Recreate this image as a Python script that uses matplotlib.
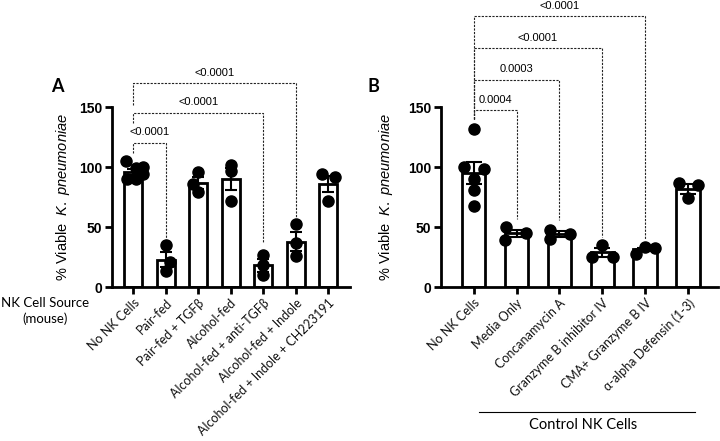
import matplotlib
matplotlib.use('Agg')
import matplotlib.pyplot as plt
import numpy as np

plt.rcParams['font.family'] = ['Lato', 'DejaVu Sans']
plt.rcParams['mathtext.fontset'] = 'custom'
plt.rcParams['mathtext.rm'] = 'Liberation Sans'
plt.rcParams['mathtext.it'] = 'Liberation Sans:italic'

# ---- panel A data ----
a_labels = ['No NK Cells', 'Pair-fed', 'Pair-fed + TGFβ', 'Alcohol-fed',
            'Alcohol-fed + anti-TGFβ', 'Alcohol-fed + Indole',
            'Alcohol-fed + Indole + CH223191']
a_means = [96, 23, 87, 90, 18, 38, 86]
a_sem = [2.5, 6.5, 5, 9, 5.5, 8, 7]
a_points = [[105, 99, 100, 90, 90, 94], [35, 21, 13], [96, 86, 79],
            [102, 97, 72], [27, 18, 10], [53, 37, 26], [94, 92, 72]]
a_pairs = [(0, 1), (0, 4), (0, 5)]
a_pvals = ['<0.0001', '<0.0001', '<0.0001']
a_levels = [120.5, 145.5, 170]
a_left_end = [112, 137, 152]
a_right_end = [40, 37, 58]

# ---- panel B data ----
b_labels = ['No NK Cells', 'Media Only', 'Concanamycin A',
            'Granzyme B inhibitor IV', 'CMA+ Granzyme B IV',
            'α-alpha Defensin (1-3)']
b_means = [95, 45, 44, 29, 31.5, 82]
b_sem = [9, 3, 2.5, 4, 1.5, 4]
b_points = [[132, 100, 98.5, 90, 81, 68], [50.5, 45, 39.5], [48, 44, 40],
            [35, 25, 25], [33.5, 33, 28], [87, 85, 74]]
b_pairs = [(0, 1), (0, 2), (0, 3), (0, 4)]
b_pvals = ['0.0004', '0.0003', '<0.0001', '<0.0001']
b_levels = [147.5, 173, 199.5, 226]
b_left_end = [140.5, 140.5, 140.5, 140.5]
b_right_end = [57, 56, 42, 40]

# horizontal spread of the scatter dots (layout only)
a_spread = [[-0.22, 0.08, 0.3, -0.2, 0.1, 0.3], [0, 0.12, 0], [0, -0.15, 0],
            [0, 0, 0], [0, 0, 0], [0, 0, 0], [-0.2, 0.22, 0]]
b_spread = [[0, -0.22, 0.25, 0, 0, 0], [-0.25, 0.22, -0.26], [-0.22, 0.24, -0.22],
            [0, -0.24, 0.26], [0, 0.23, -0.22], [-0.22, 0.24, 0]]

NUM_FONT = 'Liberation Sans'


def draw_panel(ax, labels, means, sem, points, spread, pairs, pvals, levels,
               left_end, right_end, xlim, capsize):
    x = np.arange(len(labels))
    ax.bar(x, means, width=0.55, color='white', edgecolor='black',
           linewidth=2.0, zorder=2)
    for i, (pts, sp) in enumerate(zip(points, spread)):
        ax.plot(x[i] + np.array(sp), pts, 'o', color='black', markersize=8,
                zorder=3, clip_on=False)
    ax.errorbar(x, means, yerr=sem, fmt='none', ecolor='black',
                elinewidth=1.5, capsize=capsize, capthick=1.5, zorder=4)

    for (i, j), p, lvl, le, re in zip(pairs, pvals, levels, left_end, right_end):
        ax.plot([x[i], x[i], x[j], x[j]], [le, lvl, lvl, re], color='#222222',
                linewidth=0.8, linestyle=(0, (2, 1.2)), clip_on=False, zorder=1)
        ax.text((x[i] + x[j]) / 2, lvl + 8.5, p, ha='center', va='center',
                fontsize=8, family=NUM_FONT)

    ax.set_xlim(*xlim)
    ax.set_ylim(0, 150)
    ax.set_yticks([0, 50, 100, 150])
    ax.set_xticks(x)
    ax.set_xticklabels(labels, rotation=45, ha='right', rotation_mode='anchor',
                       fontsize=9, color='#111111')
    for lab in ax.get_yticklabels():
        lab.set_family(NUM_FONT)
        lab.set_fontweight('bold')
        lab.set_fontsize(10)
    ax.tick_params(axis='both', direction='out', length=5, width=2.0)
    ax.tick_params(axis='y', pad=2)
    ax.tick_params(axis='x', pad=2)
    for side in ('top', 'right'):
        ax.spines[side].set_visible(False)
    for side in ('left', 'bottom'):
        ax.spines[side].set_linewidth(2.0)
    ax.set_ylabel('% Viable  $\\mathit{K.\\ pneumoniae}$', fontsize=10.5,
                  family=NUM_FONT)


fig = plt.figure(figsize=(7.2, 4.41), dpi=100)
ax_a = fig.add_axes([0.1556, 0.349, 0.331, 0.408])
ax_b = fig.add_axes([0.6125, 0.349, 0.385, 0.408])

draw_panel(ax_a, a_labels, a_means, a_sem, a_points, a_spread, a_pairs, a_pvals,
           a_levels, a_left_end, a_right_end, (-0.65, 6.68), 4.5)
draw_panel(ax_b, b_labels, b_means, b_sem, b_points, b_spread, b_pairs, b_pvals,
           b_levels, b_left_end, b_right_end, (-0.76, 5.7), 6)

ax_a.yaxis.set_label_coords(-40 / 238, 0.5)
ax_b.yaxis.set_label_coords(-46 / 277, 0.5)

fig.text(0.079, 0.803, 'A', fontsize=13, fontweight='bold', ha='center', va='center')
fig.text(0.519, 0.803, 'B', fontsize=13, fontweight='bold', ha='center', va='center')

fig.text(0.0625, 0.295, 'NK Cell Source\n(mouse)', fontsize=9.5, ha='center',
         va='center', linespacing=1.3)

fig.add_artist(plt.Line2D([0.665, 0.965], [0.066, 0.066], color='black',
                          linewidth=0.8, transform=fig.transFigure))
fig.text(0.81, 0.036, 'Control NK Cells', fontsize=10.5, ha='center', va='center')

fig.savefig('out.png', dpi=100)
